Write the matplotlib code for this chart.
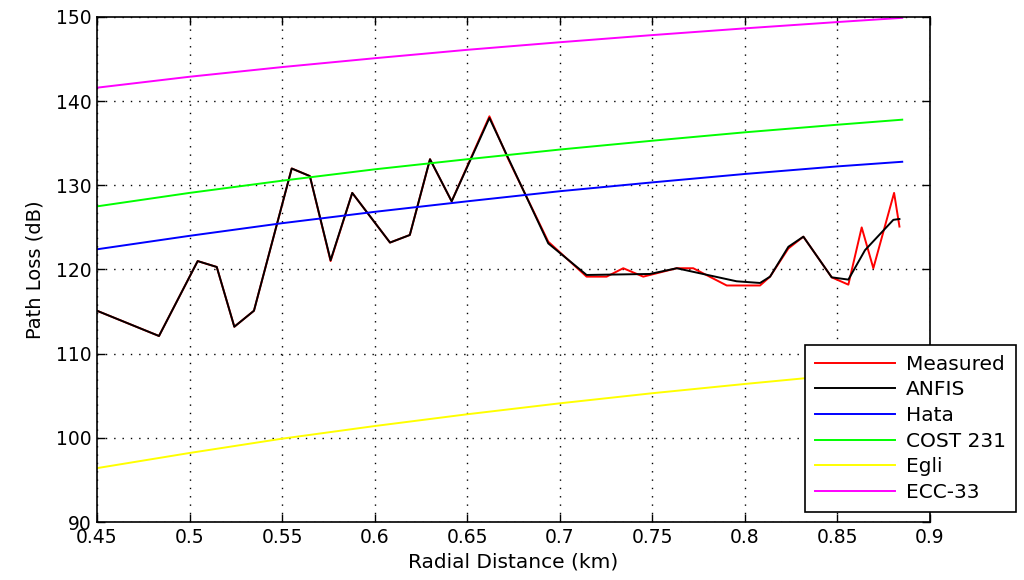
import numpy as np
import matplotlib
matplotlib.use("Agg")
import matplotlib.pyplot as plt

# measured and ANFIS path loss
meas_km = [0.450, 0.4835, 0.5044, 0.5147, 0.5242, 0.5348, 0.5552, 0.565, 0.5762, 0.5879,
           0.6083, 0.619, 0.6299, 0.6416, 0.662, 0.672, 0.6938, 0.7145, 0.7253, 0.7343,
           0.7451, 0.7632, 0.7721, 0.7902, 0.8082, 0.8136, 0.8235, 0.8316, 0.8469, 0.8559,
           0.8631, 0.8694, 0.8806, 0.8835]
meas_db = [115.1, 112.1, 121.0, 120.3, 113.2, 115.1, 132.0, 131.1, 121.0, 129.1,
           123.2, 124.1, 133.1, 128.1, 138.2, 133.2, 123.3, 119.15, 119.15, 120.15,
           119.15, 120.15, 120.15, 118.1, 118.1, 119.15, 122.5, 123.9, 119.07, 118.2,
           125.0, 120.15, 129.1, 125.1]

anfis_km = [0.450, 0.4835, 0.5044, 0.5147, 0.5242, 0.5348, 0.5552, 0.565, 0.5762, 0.5879,
            0.6083, 0.619, 0.6299, 0.6416, 0.662, 0.6938, 0.7145, 0.7487, 0.7632, 0.7955,
            0.8082, 0.8136, 0.8235, 0.8316, 0.8469, 0.8559, 0.8649, 0.8802, 0.8835]
anfis_db = [115.1, 112.1, 121.0, 120.3, 113.2, 115.1, 132.0, 131.1, 121.1, 129.1,
            123.2, 124.1, 133.1, 128.1, 138.0, 123.1, 119.35, 119.47, 120.15, 118.6,
            118.4, 119.15, 122.7, 123.9, 119.07, 118.8, 122.3, 125.9, 126.0]

# empirical models
model_km = [0.45, 0.50, 0.55, 0.60, 0.65, 0.70, 0.75, 0.80, 0.85, 0.885]
hata = [122.4, 124.0, 125.5, 126.85, 128.1, 129.3, 130.35, 131.35, 132.25, 132.8]
cost231 = [127.5, 129.1, 130.55, 131.9, 133.1, 134.25, 135.3, 136.3, 137.2, 137.8]
egli = [96.4, 98.2, 99.9, 101.4, 102.8, 104.1, 105.3, 106.4, 107.45, 108.15]
ecc33 = [141.6, 142.9, 144.05, 145.1, 146.1, 147.0, 147.85, 148.65, 149.4, 149.9]

plt.rcParams["font.family"] = ["DejaVu Sans"]

fig = plt.figure(figsize=(10.24, 5.8), dpi=100)
ax = fig.add_axes([0.0947, 0.1, 0.8135, 0.8707])

lw = 1.4
ax.plot(meas_km, meas_db, color="#ff0000", lw=lw, label="Measured")
ax.plot(anfis_km, anfis_db, color="#000000", lw=lw, label="ANFIS")
ax.plot(model_km, hata, color="#0000ff", lw=lw, label="Hata")
ax.plot(model_km, cost231, color="#00ff00", lw=lw, label="COST 231")
ax.plot(model_km, egli, color="#ffff00", lw=lw, label="Egli")
ax.plot(model_km, ecc33, color="#ff00ff", lw=lw, label="ECC-33")

ax.set_xlim(0.45, 0.9)
ax.set_ylim(90, 150)
ax.set_xticks(np.arange(0.45, 0.901, 0.05))
ax.set_xticklabels(["0.45", "0.5", "0.55", "0.6", "0.65", "0.7", "0.75", "0.8", "0.85", "0.9"])
ax.set_yticks(range(90, 151, 10))
ax.tick_params(direction="in", length=6, width=1, top=True, right=True, labelsize=13.5, pad=4)
ax.grid(True, color="black", linestyle=(0, (1, 5)), lw=1)
for s in ax.spines.values():
    s.set_linewidth(1.2)

ax.set_xlabel("Radial Distance (km)", fontsize=14.5, labelpad=4)
ax.set_ylabel("Path Loss (dB)", fontsize=14, labelpad=8)

leg = ax.legend(loc="lower left", bbox_to_anchor=(0.786, 0.117), bbox_transform=fig.transFigure,
                fontsize=14.5, frameon=True, fancybox=False, edgecolor="black", framealpha=1,
                handlelength=4.0, labelspacing=0.33, borderpad=0.5, handletextpad=0.5,
                borderaxespad=0)
leg.get_frame().set_linewidth(1.2)

fig.savefig("out.png", dpi=100)
